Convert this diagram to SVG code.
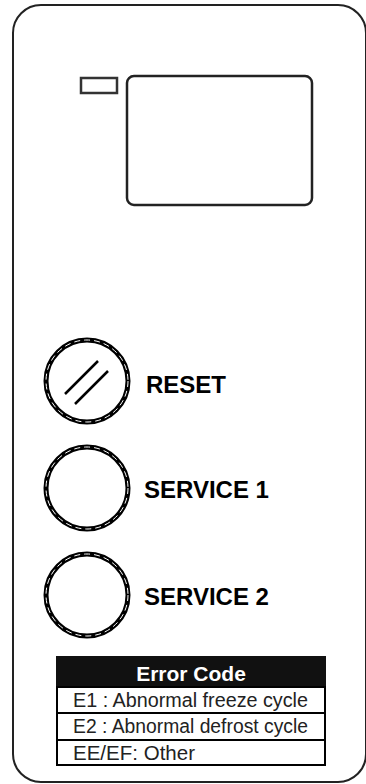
<svg xmlns="http://www.w3.org/2000/svg" width="366" height="784" viewBox="0 0 366 784">
<style>
.ring{fill:#fff;stroke:#000;stroke-width:5}
.dash{fill:none;stroke:#fff;stroke-width:1;stroke-dasharray:6 4}
.lbl{font-family:"Liberation Sans",Arial,sans-serif;font-weight:bold;font-size:24px;fill:#000}
.row{font-family:"Liberation Sans",Arial,sans-serif;font-size:20px;fill:#222}
.cell{fill:#fff;stroke:#000;stroke-width:2}
</style>
<g id="panel"><rect x="13" y="5" width="353" height="777" rx="28" fill="#fff" stroke="#222" stroke-width="2"/></g>
<g id="led"><rect x="81" y="78" width="36" height="15" fill="#fff" stroke="#333" stroke-width="2.5"/></g>
<g id="display"><rect x="127" y="76" width="185" height="129" rx="7" fill="#fff" stroke="#222" stroke-width="2.5"/></g>
<g id="reset">
<circle class="ring" cx="87" cy="381" r="41"/><circle class="dash" cx="87" cy="381" r="41"/>
<line x1="65" y1="394" x2="98" y2="361" stroke="#000" stroke-width="2.5"/>
<line x1="75" y1="404" x2="108" y2="371" stroke="#000" stroke-width="2.5"/>
<text class="lbl" x="146" y="393">RESET</text>
</g>
<g id="service1">
<circle class="ring" cx="87" cy="488" r="41"/><circle class="dash" cx="87" cy="488" r="41"/>
<text class="lbl" x="144" y="498">SERVICE 1</text>
</g>
<g id="service2">
<circle class="ring" cx="87" cy="595" r="41"/><circle class="dash" cx="87" cy="595" r="41"/>
<text class="lbl" x="144" y="605">SERVICE 2</text>
</g>
<g id="errortable">
<rect x="57" y="657" width="268" height="30" fill="#111" stroke="#111" stroke-width="2"/>
<text x="191" y="681" text-anchor="middle" font-family="Liberation Sans,Arial,sans-serif" font-weight="bold" font-size="21" fill="#fff">Error Code</text>
<rect class="cell" x="57" y="687" width="268" height="26"/>
<rect class="cell" x="57" y="713" width="268" height="27"/>
<rect class="cell" x="57" y="740" width="268" height="25"/>
<text class="row" x="73" y="707" textLength="235" lengthAdjust="spacingAndGlyphs">E1 : Abnormal freeze cycle</text>
<text class="row" x="73" y="733" textLength="235" lengthAdjust="spacingAndGlyphs">E2 : Abnormal defrost cycle</text>
<text class="row" x="73" y="760" textLength="122" lengthAdjust="spacingAndGlyphs">EE/EF: Other</text>
</g>
<g id="connectors"/>
</svg>
